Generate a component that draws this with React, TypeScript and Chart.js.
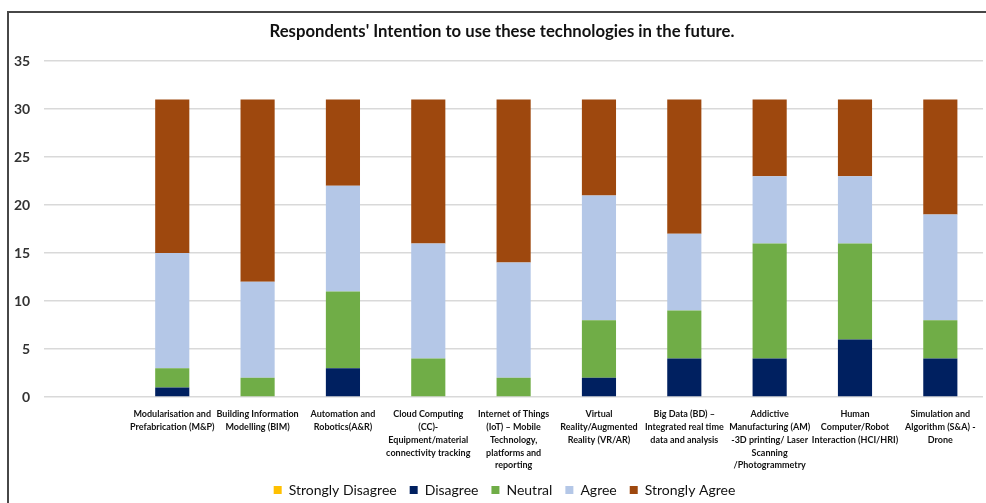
import React, { useEffect, useRef } from "react";
import { Chart, registerables } from "chart.js";

Chart.register(...registerables);

const TITLE = "Respondents' Intention to use these technologies in the future.";

const categories: string[][] = [
  [""],
  ["Modularisation and", "Prefabrication (M&P)"],
  ["Building Information", "Modelling (BIM)"],
  ["Automation and", "Robotics(A&R)"],
  ["Cloud Computing", "(CC)-", "Equipment/material", "connectivity tracking"],
  ["Internet of Things", "(IoT) \u2013 Mobile", "Technology,", "platforms and", "reporting"],
  ["Virtual", "Reality/Augmented", "Reality (VR/AR)"],
  ["Big Data (BD) \u2013", "Integrated real time", "data and analysis"],
  ["Addictive", "Manufacturing (AM)", "-3D printing/ Laser", "Scanning", "/Photogrammetry"],
  ["Human", "Computer/Robot", "Interaction (HCI/HRI)"],
  ["Simulation and", "Algorithm (S&A) -", "Drone"],
];

const stronglyDisagree = [null, 0, 0, 0, 0, 0, 0, 0, 0, 0, 0];
const disagree = [null, 1, 0, 3, 0, 0, 2, 4, 4, 6, 4];
const neutral = [null, 2, 2, 8, 4, 2, 6, 5, 12, 10, 4];
const agree = [null, 12, 10, 11, 12, 12, 13, 8, 7, 7, 11];
const stronglyAgree = [null, 16, 19, 9, 15, 17, 10, 14, 8, 8, 12];

const seriesNames = ["Strongly Disagree", "Disagree", "Neutral", "Agree", "Strongly Agree"];
const seriesColors = ["#FFC000", "#002060", "#70AD47", "#B4C7E7", "#9E480E"];

const Y_MAX = 35;
const Y_STEP = 5;

const legendShift = {
  id: "legendShift",
  afterLayout(chart: any) {
    const lg = chart.legend;
    if (lg) {
      lg.left += 13;
      lg.right += 13;
    }
  },
};

export default function App() {
  const ref = useRef<HTMLCanvasElement | null>(null);

  useEffect(() => {
    document.body.style.margin = "0";
    const canvas = ref.current;
    if (!canvas) return;
    const seriesData = [stronglyDisagree, disagree, neutral, agree, stronglyAgree];
    const chart = new Chart(canvas, {
      type: "bar",
      data: {
        labels: categories,
        datasets: seriesNames.map((name, i) => ({
          label: name,
          data: seriesData[i] as any,
          backgroundColor: seriesColors[i],
          borderWidth: 0,
          barPercentage: 0.4,
          categoryPercentage: 1,
        })),
      },
      plugins: [legendShift],
      options: {
        animation: false,
        responsive: false,
        maintainAspectRatio: false,
        layout: { padding: { left: 0, right: 3, top: 61, bottom: 0 } },
        plugins: {
          title: { display: false },
          legend: {
            display: true,
            position: "bottom",
            labels: {
              color: "#111",
              font: { family: "Lato", size: 14 },
              boxWidth: 8,
              boxHeight: 8,
              padding: 13,
            },
          },
          tooltip: { enabled: false },
        },
        scales: {
          x: {
            stacked: true,
            grid: { display: false },
            border: { display: false },
            afterFit: (scale: any) => {
              scale.height = 73;
            },
            ticks: {
              autoSkip: false,
              maxRotation: 0,
              minRotation: 0,
              color: "#111",
              font: { family: "Lato", size: 9, weight: "bold", lineHeight: 1.42 },
              padding: 3,
            },
          },
          y: {
            stacked: true,
            min: 0,
            max: Y_MAX,
            grid: { color: "#d9d9d9", lineWidth: 1.5, drawTicks: false },
            border: { display: false },
            ticks: {
              stepSize: Y_STEP,
              color: "#333",
              font: { family: "Lato", size: 14, weight: "bold" },
              padding: 14,
            },
          },
        },
      },
    });
    return () => chart.destroy();
  }, []);

  return (
    <div style={{ position: "fixed", left: 0, top: 0, width: 986, height: 503, background: "#fff", overflow: "hidden" }}>
      <canvas ref={ref} width={986} height={507} style={{ position: "absolute", left: 0, top: 0, width: 986, height: 507 }} />
      <div
        style={{
          position: "absolute",
          left: 202,
          width: 600,
          top: 20,
          height: 22,
          lineHeight: "22px",
          textAlign: "center",
          fontFamily: "Lato",
          fontWeight: "bold",
          fontSize: "16.7px",
          color: "#111",
          whiteSpace: "nowrap",
        }}
      >
        {TITLE}
      </div>
      <div
        style={{
          position: "absolute",
          left: 7,
          top: 11,
          width: 1200,
          height: 800,
          borderTop: "2px solid #474747",
          borderLeft: "2px solid #474747",
          pointerEvents: "none",
        }}
      />
    </div>
  );
}
